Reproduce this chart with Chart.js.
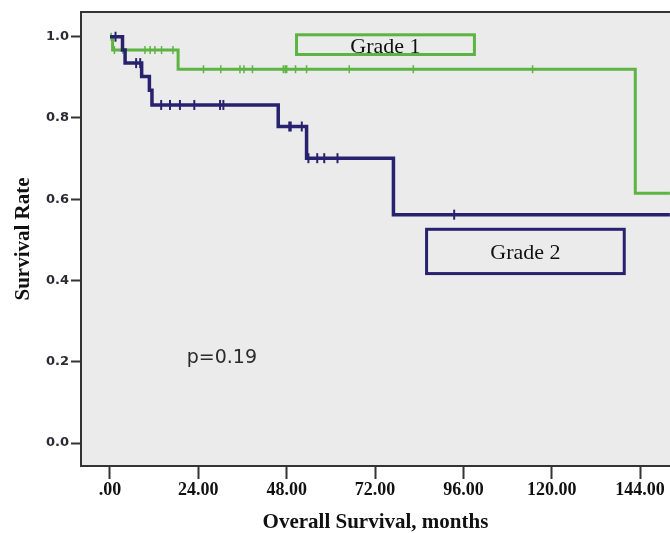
<!DOCTYPE html>
<html><head><meta charset="utf-8">
<script src="https://cdn.jsdelivr.net/npm/chart.js@4"></script>
<style>html,body{margin:0;padding:0;background:#fff;}canvas{display:block}</style>
</head><body>
<canvas id="c" width="670" height="533"></canvas>
<script>
// ---- data ----
const seriesNames = ['Grade 1', 'Grade 2'];
const grade1Times = [0, 0.7, 18.5, 142.7, 152.1];
const grade1Surv  = [1.0, 0.967, 0.920, 0.615, 0.615];
const grade1Censored = [0.3, 1.2, 3.5, 9.5, 10.9, 12.2, 14.0, 17.1, 25.4, 30.1, 35.3, 36.4, 38.7, 47.1, 47.6, 48.0, 50.4, 53.4, 65.0, 82.4, 114.8];
const grade2Times = [0, 3.4, 4.1, 8.6, 10.7, 11.4, 45.7, 53.4, 77.0, 152.1];
const grade2Surv  = [1.0, 0.967, 0.935, 0.902, 0.868, 0.832, 0.779, 0.701, 0.562, 0.562];
const grade2Censored = [1.5, 7.1, 8.2, 13.9, 16.3, 19.0, 22.9, 29.9, 30.8, 48.7, 49.1, 52.1, 53.9, 56.3, 58.2, 61.8, 93.5];
const xTickValues = [0, 24, 48, 72, 96, 120, 144];
const xTickLabels = ['.00', '24.00', '48.00', '72.00', '96.00', '120.00', '144.00'];
const yTickValues = [0, 0.2, 0.4, 0.6, 0.8, 1.0];
const yTickLabels = ['0.0', '0.2', '0.4', '0.6', '0.8', '1.0'];
const pValueText = 'p=0.19';
const xTitle = 'Overall Survival, months';
const yTitle = 'Survival Rate';

// ---- helpers ----
function survAt(times, surv, t) { let s = surv[0]; for (let i = 0; i < times.length; i++) if (times[i] <= t) s = surv[i]; return s; }
const toPts = (ts, ss) => ts.map((t, i) => ({x: t, y: ss[i]}));
const censorPts = (cs, ts, ss) => cs.map(t => ({x: t, y: survAt(ts, ss, t)}));

const GREEN = '#5db443';
const NAVY = '#28226e';

const decor = {
  id: 'decor',
  beforeDraw(chart) {
    const {ctx, chartArea: a} = chart;
    ctx.save();
    ctx.fillStyle = '#ebebeb';
    ctx.fillRect(a.left, a.top, a.right - a.left, a.bottom - a.top);
    ctx.restore();
  },
  afterDatasetsDraw(chart, args, opts) {
    const {ctx, chartArea: a} = chart;
    const xs = chart.scales.x, ys = chart.scales.y;
    ctx.save();
    // top frame line
    ctx.strokeStyle = '#333';
    ctx.lineWidth = 2;
    ctx.beginPath(); ctx.moveTo(a.left, a.top); ctx.lineTo(a.right, a.top); ctx.stroke();
    // legend boxes
    for (const b of opts.boxes) {
      const x0 = xs.getPixelForValue(b.x0), x1 = xs.getPixelForValue(b.x1);
      const y0 = ys.getPixelForValue(b.y0), y1 = ys.getPixelForValue(b.y1);
      ctx.strokeStyle = b.color; ctx.lineWidth = 3;
      ctx.strokeRect(x0, y0, x1 - x0, y1 - y0);
      ctx.fillStyle = '#111';
      ctx.font = '22px "Liberation Serif"';
      ctx.textAlign = 'center'; ctx.textBaseline = 'alphabetic';
      ctx.fillText(b.text, (x0 + x1) / 2, (y0 + y1) / 2 + 8);
    }
    // p-value
    ctx.fillStyle = '#2a2a2a';
    ctx.font = '19px "DejaVu Sans"';
    ctx.textAlign = 'left'; ctx.textBaseline = 'alphabetic';
    ctx.fillText(opts.pText, xs.getPixelForValue(opts.pX), ys.getPixelForValue(opts.pY));
    ctx.restore();
  }
};

new Chart(document.getElementById('c'), {
  type: 'line',
  data: {
    datasets: [
      {label: seriesNames[1] + ' censored', type: 'scatter', data: censorPts(grade2Censored, grade2Times, grade2Surv),
       pointStyle: 'line', pointRadius: 5, pointRotation: 90, pointBorderColor: NAVY, pointBackgroundColor: NAVY, pointBorderWidth: 2, showLine: false, order: 0},
      {label: seriesNames[1], data: toPts(grade2Times, grade2Surv), stepped: 'before', borderColor: NAVY, borderWidth: 3.5,
       pointRadius: 0, fill: false, tension: 0, order: 1},
      {label: seriesNames[0] + ' censored', type: 'scatter', data: censorPts(grade1Censored, grade1Times, grade1Surv),
       pointStyle: 'line', pointRadius: 4, pointRotation: 90, pointBorderColor: GREEN, pointBackgroundColor: GREEN, pointBorderWidth: 1.5, showLine: false, order: 2},
      {label: seriesNames[0], data: toPts(grade1Times, grade1Surv), stepped: 'before', borderColor: GREEN, borderWidth: 3,
       pointRadius: 0, fill: false, tension: 0, order: 3}
    ]
  },
  options: {
    responsive: false,
    animation: false,
    events: [],
    layout: {autoPadding: false, padding: {top: 12, left: 0, right: 0, bottom: 0}},
    plugins: {
      legend: {display: false},
      tooltip: {enabled: false},
      decor: {
        boxes: [
          {text: seriesNames[0], x0: 50.67, x1: 99.0, y0: 1.0047, y1: 0.9562, color: GREEN},
          {text: seriesNames[1], x0: 86.0, x1: 139.7, y0: 0.526, y1: 0.417, color: NAVY}
        ],
        pText: pValueText, pX: 20.84, pY: 0.196
      }
    },
    scales: {
      x: {
        type: 'linear', min: -7.878, max: 152.13,
        afterBuildTicks: s => { s.ticks = xTickValues.map(v => ({value: v})); },
        afterFit: s => { s.height = 67; s.paddingLeft = 0; s.paddingRight = 0; },
        ticks: {autoSkip: false, maxRotation: 0, padding: 1, color: '#111',
                font: {family: 'Liberation Serif', weight: 'bold', size: 18},
                callback: (v, i) => xTickLabels[i]},
        grid: {drawOnChartArea: false, drawTicks: true, tickLength: 13, tickWidth: 2, tickColor: '#333'},
        border: {display: true, color: '#333', width: 2},
        title: {display: true, text: xTitle, color: '#111', padding: {top: 0, bottom: 0},
                font: {family: 'Liberation Serif', weight: 'bold', size: 21, lineHeight: 1}}
      },
      y: {
        type: 'linear', min: -0.0566, max: 1.0608,
        afterBuildTicks: s => { s.ticks = yTickValues.map(v => ({value: v})); },
        afterFit: s => { s.width = 81; s.paddingTop = 0; s.paddingBottom = 0; },
        ticks: {autoSkip: false, padding: 2, color: '#2b2b35',
                font: {family: 'DejaVu Sans', weight: 'bold', size: 13},
                callback: (v, i) => yTickLabels[i]},
        grid: {drawOnChartArea: false, drawTicks: true, tickLength: 10, tickWidth: 2, tickColor: '#333'},
        border: {display: true, color: '#333', width: 2},
        title: {display: true, text: yTitle, color: '#111', padding: {top: 11, bottom: 0},
                font: {family: 'Liberation Serif', weight: 'bold', size: 21, lineHeight: 1.2}}
      }
    }
  },
  plugins: [decor]
});
</script>
</body></html>
